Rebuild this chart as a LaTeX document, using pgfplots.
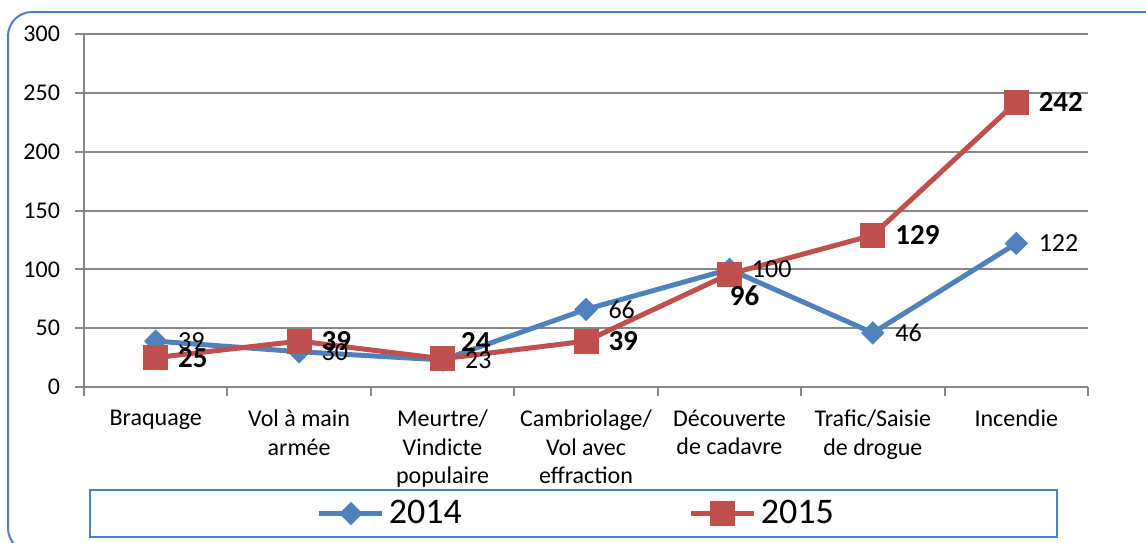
\documentclass[border=0pt]{standalone}
\usepackage{fontspec}
\setmainfont{Carlito}
\usepackage{pgfplots}
\pgfplotsset{compat=1.18}
\usepackage{pgfplotstable}
\definecolor{s14}{HTML}{4F81BD}
\definecolor{s15}{HTML}{C0504D}
\definecolor{gridc}{HTML}{868686}
\definecolor{frame}{HTML}{4F81BD}

% x y, then label shift (pt)
\pgfplotstableread{
x y dx dy
0 39 10 0
1 30 10 0
2 23 10 0
3 66 10 0
4 100 10 0
5 46 10 0
6 122 10 0
}\dataA
\pgfplotstableread{
x y dx dy
0 25 10 0
1 39 10 0
2 24 8 8.5
3 39 10 0
4 96 -1 -11
5 129 10 0
6 242 10 0
}\dataB

\begin{document}
\begin{tikzpicture}[x=1pt,y=1pt]
\useasboundingbox (0,0) rectangle (573,-271);
\draw[frame, line width=1pt, rounded corners=12pt] (4,-6) rectangle (585,-276);
\begin{axis}[
  at={(42pt,-193.5pt)}, anchor=south west,
  scale only axis, width=502pt, height=176.5pt,
  xmin=-0.5, xmax=6.5, ymin=0, ymax=300,
  axis x line*=bottom, axis y line*=left,
  axis line style={gridc, line width=1pt},
  ytick={0,50,...,300},
  ymajorgrids, grid style={gridc, line width=1pt},
  xtick={-0.5,0.5,...,6.5}, xticklabels={},
  extra x ticks={0,1,2,3,4,5,6},
  extra x tick labels={{Braquage},{Vol à main\\armée},{Meurtre/\\Vindicte\\populaire},{Cambriolage/\\Vol avec\\effraction},{Découverte\\de cadavre},{Trafic/Saisie\\de drogue},{Incendie}},
  extra x tick style={major tick length=0pt, grid=none},
  tick align=outside, major tick length=4.5pt,
  tick style={gridc, line width=1pt},
  /pgf/number format/assume math mode=true,
  tick label style={font=\fontsize{12}{14.25}\selectfont},
  xticklabel style={align=center, anchor=north, yshift=-8pt},
  yticklabel style={anchor=east, xshift=-4pt},
  nodes near coords={\pgfmathprintnumber{\pgfplotspointmeta}},
  visualization depends on={\thisrow{dx}\as\dx},
  visualization depends on={\thisrow{dy}\as\dy},
  every node near coord/.append style={anchor=west, inner sep=0pt, xshift=\dx pt, yshift=\dy pt, text=black},
  legend style={draw=none, fill=none, at={(0.4915,-0.3584)}, anchor=center,
    font=\fontsize{18}{22}\selectfont,
    /tikz/every even column/.append style={column sep=111.5pt}},
  legend columns=2,
  legend image code/.code={\draw[mark repeat=2,mark phase=2] plot coordinates {(0pt,0pt)(15.75pt,0pt)(31.5pt,0pt)};},
  clip=false,
]
\addplot[s14, line width=2.5pt, mark=square*, mark size=2.9pt, mark options={rotate=45, solid},
  every node near coord/.append style={font=\fontsize{13}{15}\selectfont}]
  table[x=x, y=y] {\dataA};
\addlegendentry{2014}
\addplot[s15, line width=2.5pt, mark=square*, mark size=5pt, mark options={solid},
  every node near coord/.append style={font=\fontsize{14.5}{17}\selectfont\bfseries}]
  table[x=x, y=y] {\dataB};
\addlegendentry{2015}
\end{axis}
\draw[frame, line width=0.8pt] (45,-245) rectangle (528.5,-268.5);
\end{tikzpicture}
\end{document}
